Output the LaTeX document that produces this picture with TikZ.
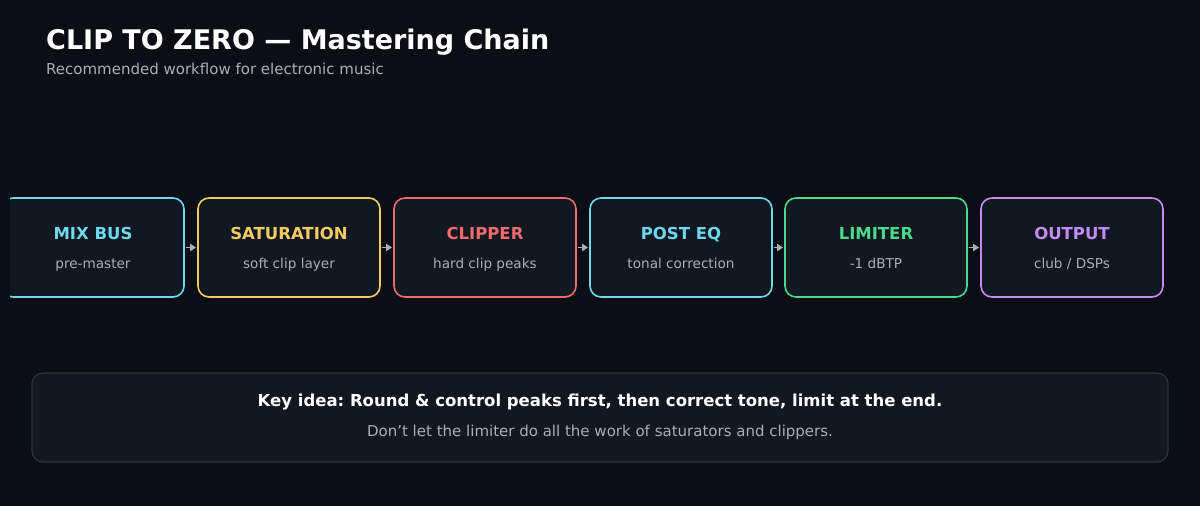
\documentclass[tikz,border=0pt]{standalone}
\usepackage{fontspec}
\setmainfont{DejaVu Sans}
\usetikzlibrary{arrows.meta}
\frenchspacing
\definecolor{bg}{HTML}{0B0F15}
\definecolor{boxfill}{HTML}{111822}
\definecolor{cyanc}{HTML}{6ED8EE}
\definecolor{yelc}{HTML}{F5CB5F}
\definecolor{redc}{HTML}{EE6C6C}
\definecolor{grnc}{HTML}{4CD98A}
\definecolor{purc}{HTML}{C48AF5}
\definecolor{subc}{HTML}{A7AFBA}
\definecolor{edgec}{HTML}{2C3440}
\begin{document}
\begin{tikzpicture}[x=1pt,y=-1pt,
  stage/.style={draw=#1,line width=1.6pt,fill=boxfill,rounded corners=11pt,minimum width=182pt,minimum height=99pt,inner sep=0pt},
  ttl/.style={font=\bfseries\fontsize{16.5}{19}\selectfont,text=#1,anchor=base,inner sep=0pt},
  sub/.style={font=\fontsize{13.6}{16}\selectfont,text=subc,anchor=base,inner sep=0pt},
  arr/.style={-{Triangle[length=6pt,width=7pt]},draw=subc,fill=subc,line width=1.8pt}]
\fill[bg] (0,0) rectangle (1200,506);
\useasboundingbox (0,0) rectangle (1200,506);
\node[anchor=base west,text=white,font=\bfseries\fontsize{27}{31}\selectfont,inner sep=0pt] (title) at (46,49) {CLIP TO ZERO — Mastering Chain};
\node[anchor=base west,text=subc,font=\fontsize{15}{18}\selectfont,inner sep=0pt] (subt) at (46,74) {Recommended workflow for electronic music};
\begin{scope}
\clip (10,0) rectangle (1200,506);
\node[stage=cyanc] (b1) at (93,247.5) {};
\end{scope}
\node[stage=yelc] (b2) at (289,247.5) {};
\node[stage=redc] (b3) at (485,247.5) {};
\node[stage=cyanc] (b4) at (681,247.5) {};
\node[stage=grnc] (b5) at (876,247.5) {};
\node[stage=purc] (b6) at (1072,247.5) {};
\foreach \n/\t/\s/\c in {b1/MIX BUS/pre-master/cyanc,b2/SATURATION/soft clip layer/yelc,b3/CLIPPER/hard clip peaks/redc,b4/POST EQ/tonal correction/cyanc,b5/LIMITER/-1 dBTP/grnc,b6/OUTPUT/{club / DSPs}/purc}{
  \node[ttl=\c] (\n t) at ([yshift=8.5pt]\n.center) {\t};
  \node[sub] (\n s) at ([yshift=-20.5pt]\n.center) {\s};
}
\foreach \a/\b in {b1/b2,b2/b3,b3/b4,b4/b5,b5/b6}{\draw[arr] ([xshift=1pt]\a.east) -- ([xshift=-1pt]\b.west);}
\node[draw=edgec,line width=1.2pt,fill=boxfill,rounded corners=11pt,minimum width=1136pt,minimum height=89pt] (key) at (600,417.5) {};
\node[text=white,font=\bfseries\fontsize{16.5}{19}\selectfont] (k1) at (600,402) {Key idea: Round \& control peaks first, then correct tone, limit at the end.};
\node[sub,anchor=center,font=\fontsize{15}{18}\selectfont] (k2) at (600,432) {Don't let the limiter do all the work of saturators and clippers.};
\end{tikzpicture}
\end{document}
